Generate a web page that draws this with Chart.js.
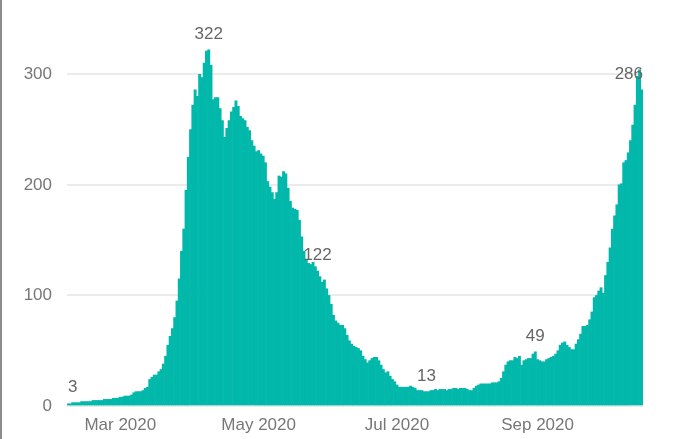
<!DOCTYPE html>
<html>
<head>
<meta charset="utf-8">
<script src="https://cdn.jsdelivr.net/npm/chart.js@4/dist/chart.umd.min.js"></script>
<style>
  body { margin: 0; background: #fff; }
  #wrap { position: relative; width: 682px; height: 439px; }
  #edge { position: absolute; left: 0; top: 0; width: 2px; height: 439px; background: #8c8c8c; }
</style>
</head>
<body>
<div id="wrap">
  <canvas id="casesChart" width="682" height="439"></canvas>
  <div id="edge"></div>
</div>
<script>
// daily values, one array per month (Feb starts on the 7th)
const startDay = 7;
const feb = [2, 2, 3, 3, 3, 3, 4, 4, 4, 4, 4, 5, 5, 5, 5, 5, 6, 6, 6, 6, 7, 7, 7];
const mar = [8, 8, 9, 9, 9, 10, 12, 13, 13, 13, 14, 16, 17, 24, 26, 28, 28, 31, 33, 38, 45, 55, 63, 70, 80, 95, 115, 140, 160, 195, 225];
const apr = [250, 272, 286, 280, 300, 297, 310, 321, 322, 308, 277, 279, 279, 269, 258, 243, 251, 258, 266, 270, 276, 271, 262, 260, 258, 252, 249, 240, 235, 230];
const may = [231, 228, 226, 220, 203, 198, 193, 187, 193, 208, 207, 212, 210, 197, 185, 179, 178, 177, 168, 153, 140, 132, 129, 128, 130, 126, 122, 117, 112, 114, 106];
const jun = [100, 92, 82, 77, 75, 73, 73, 70, 64, 59, 56, 54, 53, 52, 50, 45, 42, 39, 41, 43, 44, 44, 41, 37, 33, 30, 31, 27, 24, 22];
const jul = [19, 17, 17, 17, 17, 17, 18, 17, 16, 14, 14, 14, 13, 13, 13, 14, 14, 15, 14, 15, 15, 15, 14, 15, 15, 16, 16, 15, 16, 16, 16];
const aug = [15, 14, 14, 16, 18, 19, 20, 20, 20, 20, 20, 21, 21, 21, 22, 25, 31, 37, 40, 41, 41, 44, 43, 45, 37, 41, 42, 43, 43, 47, 49];
const sep = [42, 41, 40, 40, 42, 43, 44, 45, 47, 50, 55, 57, 58, 55, 53, 51, 51, 56, 60, 65, 72, 72, 73, 78, 85, 98, 100, 104, 107, 102];
const oct = [118, 130, 143, 160, 172, 182, 200, 201, 220, 222, 229, 240, 254, 272, 298, 304, 286];

const months = [['02', feb], ['03', mar], ['04', apr], ['05', may], ['06', jun], ['07', jul], ['08', aug], ['09', sep], ['10', oct]];

const tickDates = ['2020-03-01', '2020-05-01', '2020-07-01', '2020-09-01'];
const tickLabels = ['Mar 2020', 'May 2020', 'Jul 2020', 'Sep 2020'];
const labelledDates = ['2020-02-09', '2020-04-09', '2020-05-27', '2020-07-14', '2020-08-31', '2020-10-17'];

const labels = [];
const values = [];
months.forEach(([m, arr]) => {
    arr.forEach((v, k) => {
        const day = (m === '02' ? startDay : 1) + k;
        labels.push('2020-' + m + '-' + String(day).padStart(2, '0'));
        values.push(v);
    });
});

const font = { family: '"Liberation Sans", Arial, sans-serif', size: 17 };

// value labels above a few bars, kept inside the plot on the right
const valueLabels = {
    id: 'valueLabels',
    afterDatasetsDraw(chart) {
        const ctx = chart.ctx;
        const meta = chart.getDatasetMeta(0);
        const area = chart.chartArea;
        ctx.save();
        ctx.font = '17px "Liberation Sans", Arial, sans-serif';
        ctx.fillStyle = '#666';
        ctx.textAlign = 'left';
        ctx.textBaseline = 'alphabetic';
        labelledDates.forEach(d => {
            const i = labels.indexOf(d);
            const bar = meta.data[i];
            const text = String(values[i]);
            const w = ctx.measureText(text).width;
            let x = bar.x - w / 2;
            if (x + w > area.right) x = area.right - w;
            ctx.fillText(text, x, bar.y - 11);
        });
        ctx.restore();
    }
};

new Chart(document.getElementById('casesChart'), {
    type: 'bar',
    data: {
        labels: labels,
        datasets: [{
            data: values,
            backgroundColor: '#01B8AA',
            borderWidth: 0,
            barPercentage: 1,
            categoryPercentage: 1
        }]
    },
    options: {
        responsive: false,
        animation: false,
        layout: { padding: { top: 30, right: 39, left: 0, bottom: 0 } },
        plugins: {
            legend: { display: false },
            tooltip: { enabled: false }
        },
        scales: {
            x: {
                grid: { display: false },
                border: { display: false },
                ticks: {
                    autoSkip: false,
                    maxRotation: 0,
                    minRotation: 0,
                    padding: 1,
                    color: '#777',
                    font: font,
                    callback: function (value, index) {
                        const k = tickDates.indexOf(labels[index]);
                        return k >= 0 ? tickLabels[k] : null;
                    }
                },
                afterFit(scale) { scale.height = 33; }
            },
            y: {
                min: 0,
                max: 340,
                grid: { color: '#ebebeb', lineWidth: 2, drawTicks: false },
                border: { display: false },
                ticks: { stepSize: 100, includeBounds: false, padding: 15, color: '#777', font: font },
                afterFit(scale) { scale.width = 67; }
            }
        }
    },
    plugins: [valueLabels]
});
</script>
</body>
</html>
